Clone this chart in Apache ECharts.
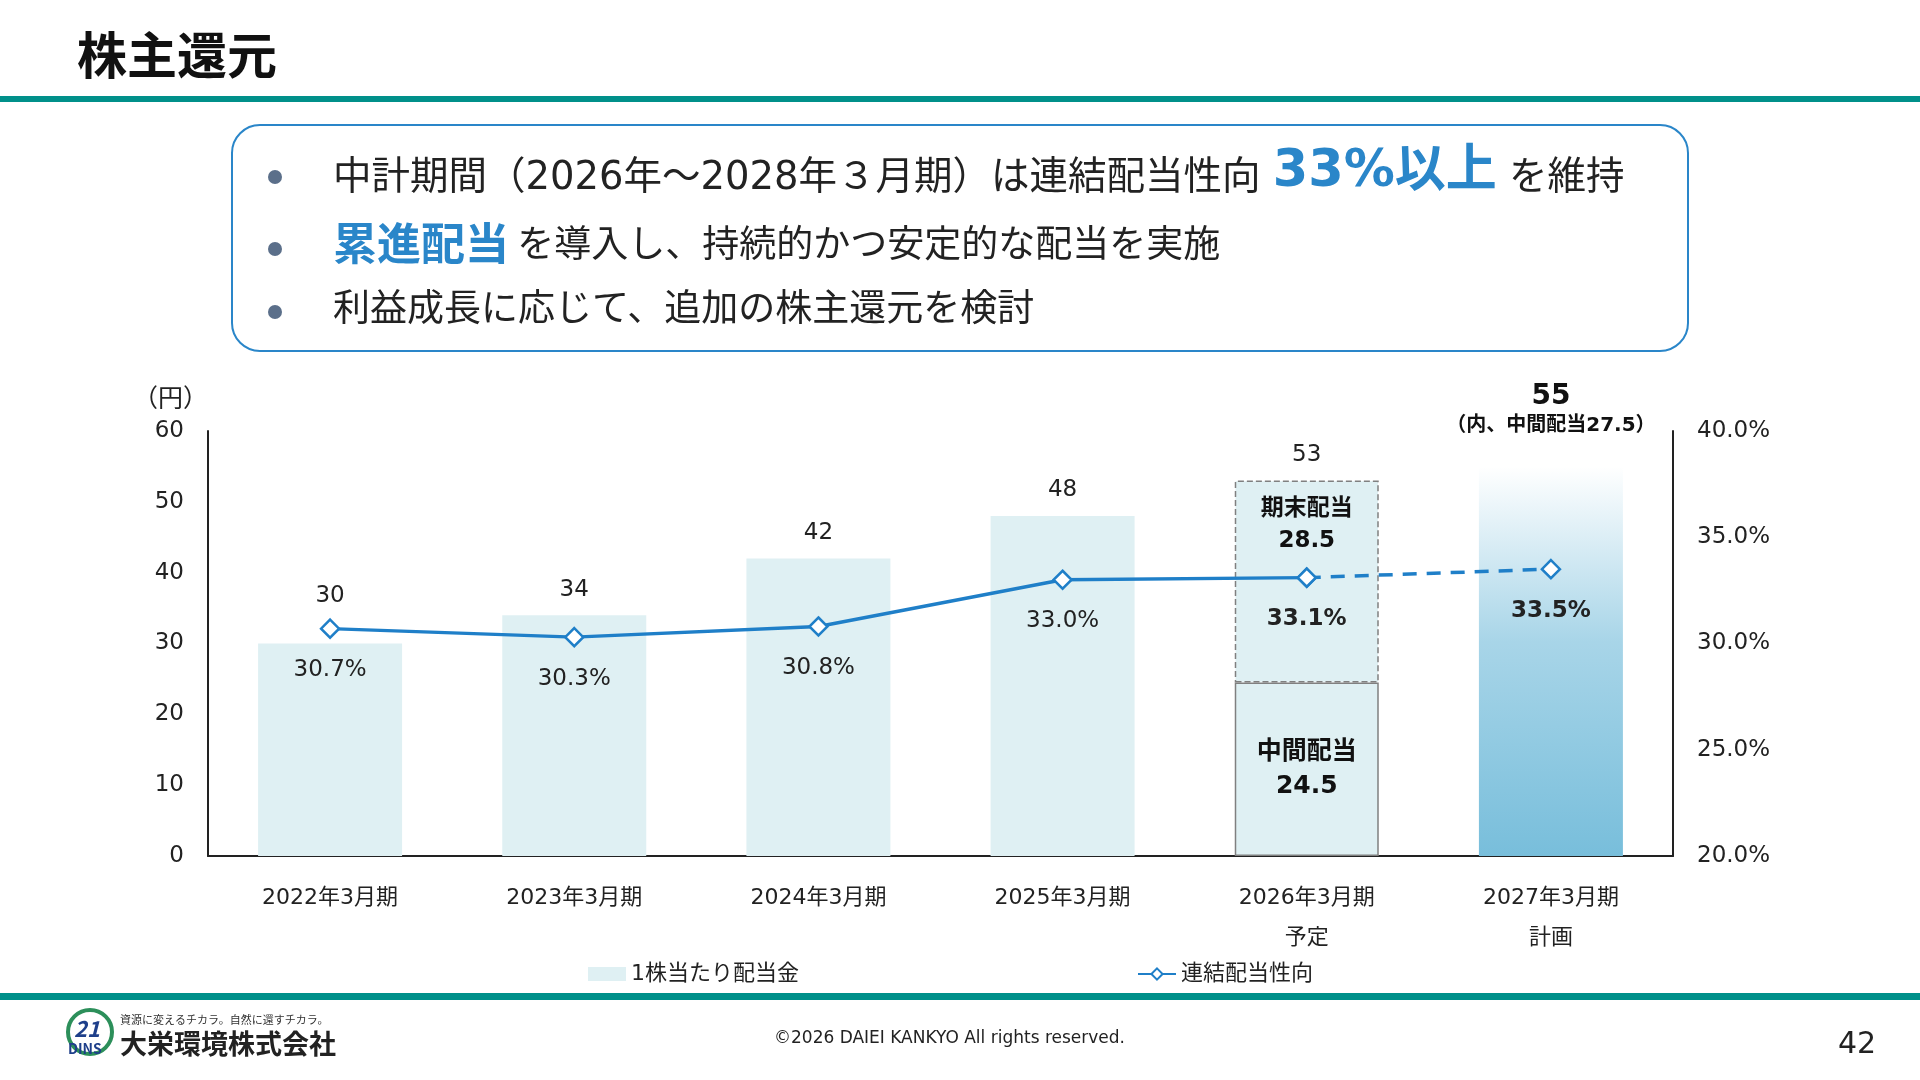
<!DOCTYPE html>
<html><head><meta charset="utf-8">
<script src="https://cdn.jsdelivr.net/npm/echarts@6/dist/echarts.min.js"></script>
<style>html,body{margin:0;padding:0;background:#fff}#c{width:1920px;height:1080px}</style>
</head><body><div id="c"></div>
<script>
const categories=['2022年3月期','2023年3月期','2024年3月期','2025年3月期','2026年3月期\n予定','2027年3月期\n計画'];
const dividends=[30,34,42,48,24.5,55];
const yearEnd2026=28.5;
const totals=[30,34,42,48,53,55];
const payoutSolid=[30.7,30.3,30.8,33.0,33.1];
const payoutPlan=[33.5];
const F='"DejaVu Sans","Noto Sans CJK JP",sans-serif';
const J='"Noto Sans CJK JP","Noto Sans",sans-serif';
const chart=echarts.init(document.getElementById('c'));
const light='#dff0f3';
const blue='#1f7fc8';
const bar1=dividends.map((v,i)=>{
  if(i===4) return {value:v,itemStyle:{color:light,borderColor:'#808080',borderWidth:1.5},
    label:{show:true,position:'inside',formatter:'中間配当\n24.5',fontWeight:'bold',fontSize:25,lineHeight:34,color:'#111'}};
  if(i===5) return {value:v,itemStyle:{color:new echarts.graphic.LinearGradient(0,0,0,1,[{offset:0,color:'#ffffff'},{offset:0.45,color:'#a8d5e8'},{offset:1,color:'#78bedb'}])}};
  return v;
});
const bar2=categories.map((c,i)=>i===4?{value:yearEnd2026,itemStyle:{color:light,borderColor:'#808080',borderWidth:1.5,borderType:'dashed'},
  label:{show:true,position:'insideTop',distance:12,formatter:'期末配当\n28.5',fontWeight:'bold',fontSize:23,lineHeight:32,color:'#111'}}:'-');
const totalData=totals.map((v,i)=>{
  if(i===5) return {value:v,label:{formatter:'{a|55}\n{b|（内、中間配当27.5）}',distance:28}};
  if(i===0) return {value:v,label:{distance:36}};
  return v;
});
const solid=payoutSolid.map((v,i)=>i===4?{value:v,label:{fontWeight:'bold'}}:v);
const plan=['-','-','-','-',payoutSolid[4]].concat(payoutPlan.map(v=>({value:v,label:{show:true,fontWeight:'bold'}})));
chart.setOption({
  animation:false,
  textStyle:{fontFamily:F},
  grid:{left:208,right:247,top:431,bottom:224},
  legend:{left:583,top:958,itemGap:338,itemWidth:38,itemHeight:14,textStyle:{fontSize:22,color:'#222',fontFamily:F},
    data:[{name:'1株当たり配当金',icon:'rect'},{name:'連結配当性向'}]},
  xAxis:{type:'category',data:categories,axisTick:{show:false},axisLine:{lineStyle:{color:'#222',width:2}},
    axisLabel:{fontSize:22,color:'#222',margin:22,lineHeight:40,fontFamily:F}},
  yAxis:[{type:'value',min:0,max:60,interval:10,splitLine:{show:false},axisLine:{show:true,lineStyle:{color:'#222',width:2}},
    axisLabel:{fontSize:23,color:'#222',margin:24,fontFamily:F}},
    {type:'value',min:20,max:40,interval:5,splitLine:{show:false},axisLine:{show:true,lineStyle:{color:'#222',width:2}},
    axisLabel:{fontSize:23,color:'#222',margin:24,formatter:v=>v.toFixed(1)+'%',fontFamily:F}}],
  series:[
    {name:'1株当たり配当金',type:'bar',stack:'d',barWidth:144,data:bar1,itemStyle:{color:light}},
    {name:'期末',type:'bar',stack:'d',data:bar2},
    {name:'total',type:'bar',barWidth:144,barGap:'-100%',silent:true,itemStyle:{color:'rgba(0,0,0,0)'},data:totalData,
      label:{show:true,position:'top',distance:14,fontSize:23,color:'#222',
        rich:{a:{fontSize:28,fontWeight:'bold',color:'#111',lineHeight:32},b:{fontSize:20,fontWeight:'bold',color:'#111',lineHeight:26}}}},
    {name:'連結配当性向',type:'line',yAxisIndex:1,data:solid,symbol:'diamond',symbolSize:18,
      lineStyle:{color:blue,width:3.5},itemStyle:{color:'#fff',borderColor:blue,borderWidth:2.5},z:5,
      label:{show:true,position:'bottom',distance:20,fontSize:23,color:'#222',formatter:p=>p.value.toFixed(1)+'%'}},
    {name:'計画',type:'line',yAxisIndex:1,data:plan,symbol:'diamond',symbolSize:18,
      lineStyle:{color:blue,width:3.5,type:[14,10]},itemStyle:{color:'#fff',borderColor:blue,borderWidth:2.5},z:4,
      label:{show:false,position:'bottom',distance:20,fontSize:23,color:'#222',formatter:p=>p.value.toFixed(1)+'%'}}
  ],
  graphic:[
    {type:'text',left:77,top:30,style:{text:'株主還元',font:'bold 50px '+J,fill:'#111'}},
    {type:'rect',shape:{x:0,y:96,width:1920,height:6},style:{fill:'#00908a'}},
    {type:'rect',shape:{x:232,y:125,width:1456,height:226,r:28},style:{fill:'#fff',stroke:'#2a86c9',lineWidth:2}},
    {type:'circle',shape:{cx:275,cy:177,r:7},style:{fill:'#5b6f8a'}},
    {type:'circle',shape:{cx:275,cy:249,r:7},style:{fill:'#5b6f8a'}},
    {type:'circle',shape:{cx:275,cy:312,r:7},style:{fill:'#5b6f8a'}},
    {type:'text',left:333,top:147,style:{text:'{n|中計期間（2026年～2028年３月期）は連結配当性向 }{h|33%以上}{n| を維持}',
      rich:{n:{fontSize:38.5,fill:'#222',fontFamily:F,verticalAlign:'bottom'},h:{fontSize:51,fontWeight:'bold',fill:'#2a86c9',fontFamily:F}}}},
    {type:'text',left:333,top:221,style:{text:'{h|累進配当}{n| を導入し、持続的かつ安定的な配当を実施}',
      rich:{n:{fontSize:37,fill:'#222',fontFamily:J},h:{fontSize:44,fontWeight:'bold',fill:'#2a86c9',fontFamily:J}}}},
    {type:'text',left:333,top:288,style:{text:'利益成長に応じて、追加の株主還元を検討',font:'37px '+J,fill:'#222'}},
    {type:'text',left:133,top:385,style:{text:'（円）',font:'25px '+J,fill:'#222'}},
    {type:'rect',shape:{x:0,y:993,width:1920,height:7},style:{fill:'#00908a'}},
    {type:'text',left:774,top:1030,style:{text:'©2026 DAIEI KANKYO All rights reserved.',font:'17px '+F,fill:'#222'}},
    {type:'text',left:1838,top:1030,style:{text:'42',font:'30px '+F,fill:'#222'}},
    {type:'circle',shape:{cx:90,cy:1032,r:22},style:{fill:'#fff',stroke:'#2c8f5a',lineWidth:4}},
    {type:'text',left:74,top:1018,style:{text:'21',font:'bold italic 22px '+J,fill:'#1e3f8a'}},
    {type:'text',left:68,top:1042,style:{text:'DINS',font:'bold 14px '+J,fill:'#1e3f8a'}},
    {type:'text',left:120,top:1014,style:{text:'資源に変えるチカラ。自然に還すチカラ。',font:'11px '+J,fill:'#333'}},
    {type:'text',left:120,top:1030,style:{text:'大栄環境株式会社',font:'bold 27px '+J,fill:'#222'}}
  ]
});
</script></body></html>
